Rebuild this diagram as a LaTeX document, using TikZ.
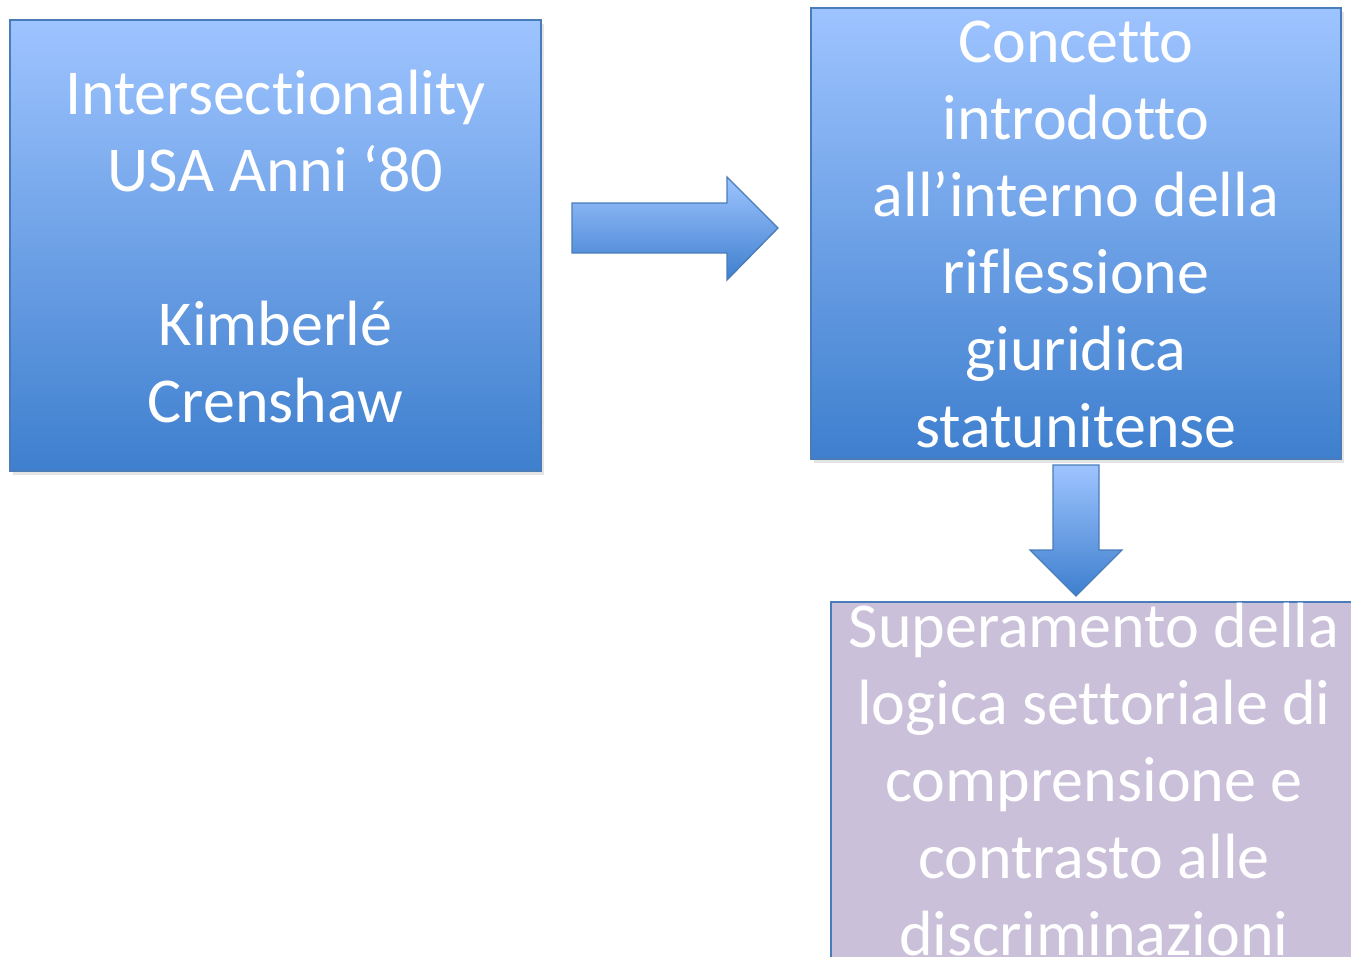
\documentclass[tikz,border=0pt]{standalone}
\usepackage{fontspec}
\setmainfont{Carlito}[Ligatures=NoCommon]
\usepackage{tikz}
\usepackage{xcolor}

\definecolor{boxtop}{RGB}{158,196,255}
\definecolor{boxbot}{RGB}{62,127,206}
\definecolor{boxline}{RGB}{74,124,186}
\definecolor{lilac}{RGB}{203,192,218}

\begin{document}
\begin{tikzpicture}[x=0.75pt,y=-0.75pt,every node/.style={font=\fontsize{48}{57.75}\selectfont,text=white,align=center}]
\clip (0,0) rectangle (1351,956);
% left box
\fill[black!30,opacity=0.35] (13,24) rectangle (544,475);
\shade[top color=boxtop,bottom color=boxbot] (10,20) rectangle (541,471);
\draw[boxline,line width=1pt] (10,20) rectangle (541,471);
\node (origin) at (275.5,247) {Intersectionality\\USA Anni ‘80\\[57.75pt]Kimberlé\\Crenshaw};
% right arrow
\path[draw=boxline,line width=1pt,top color=boxtop,bottom color=boxbot] (572,203) -- (727,203) -- (727,177) -- (778,228) -- (727,280) -- (727,253) -- (572,253) -- cycle;
% right box
\fill[black!30,opacity=0.35] (814,12) rectangle (1344,463);
\shade[top color=boxtop,bottom color=boxbot] (811,8) rectangle (1341,459);
\draw[boxline,line width=1pt] (811,8) rectangle (1341,459);
\node (concept) at (1076,234.5) {Concetto\\introdotto\\all’interno della\\riflessione\\giuridica\\statunitense};
% down arrow
\path[draw=boxline,line width=1pt,top color=boxtop,bottom color=boxbot] (1053,465) -- (1099,465) -- (1099,550) -- (1122,550) -- (1076,596) -- (1030,550) -- (1053,550) -- cycle;
% bottom box
\fill[lilac] (831,602) rectangle (1357,958);
\draw[boxline,line width=1pt] (831,602) rectangle (1357,958);
\node (overcome) at (1094,780) {Superamento della\\logica settoriale di\\comprensione e\\contrasto alle\\discriminazioni};
\end{tikzpicture}
\end{document}
